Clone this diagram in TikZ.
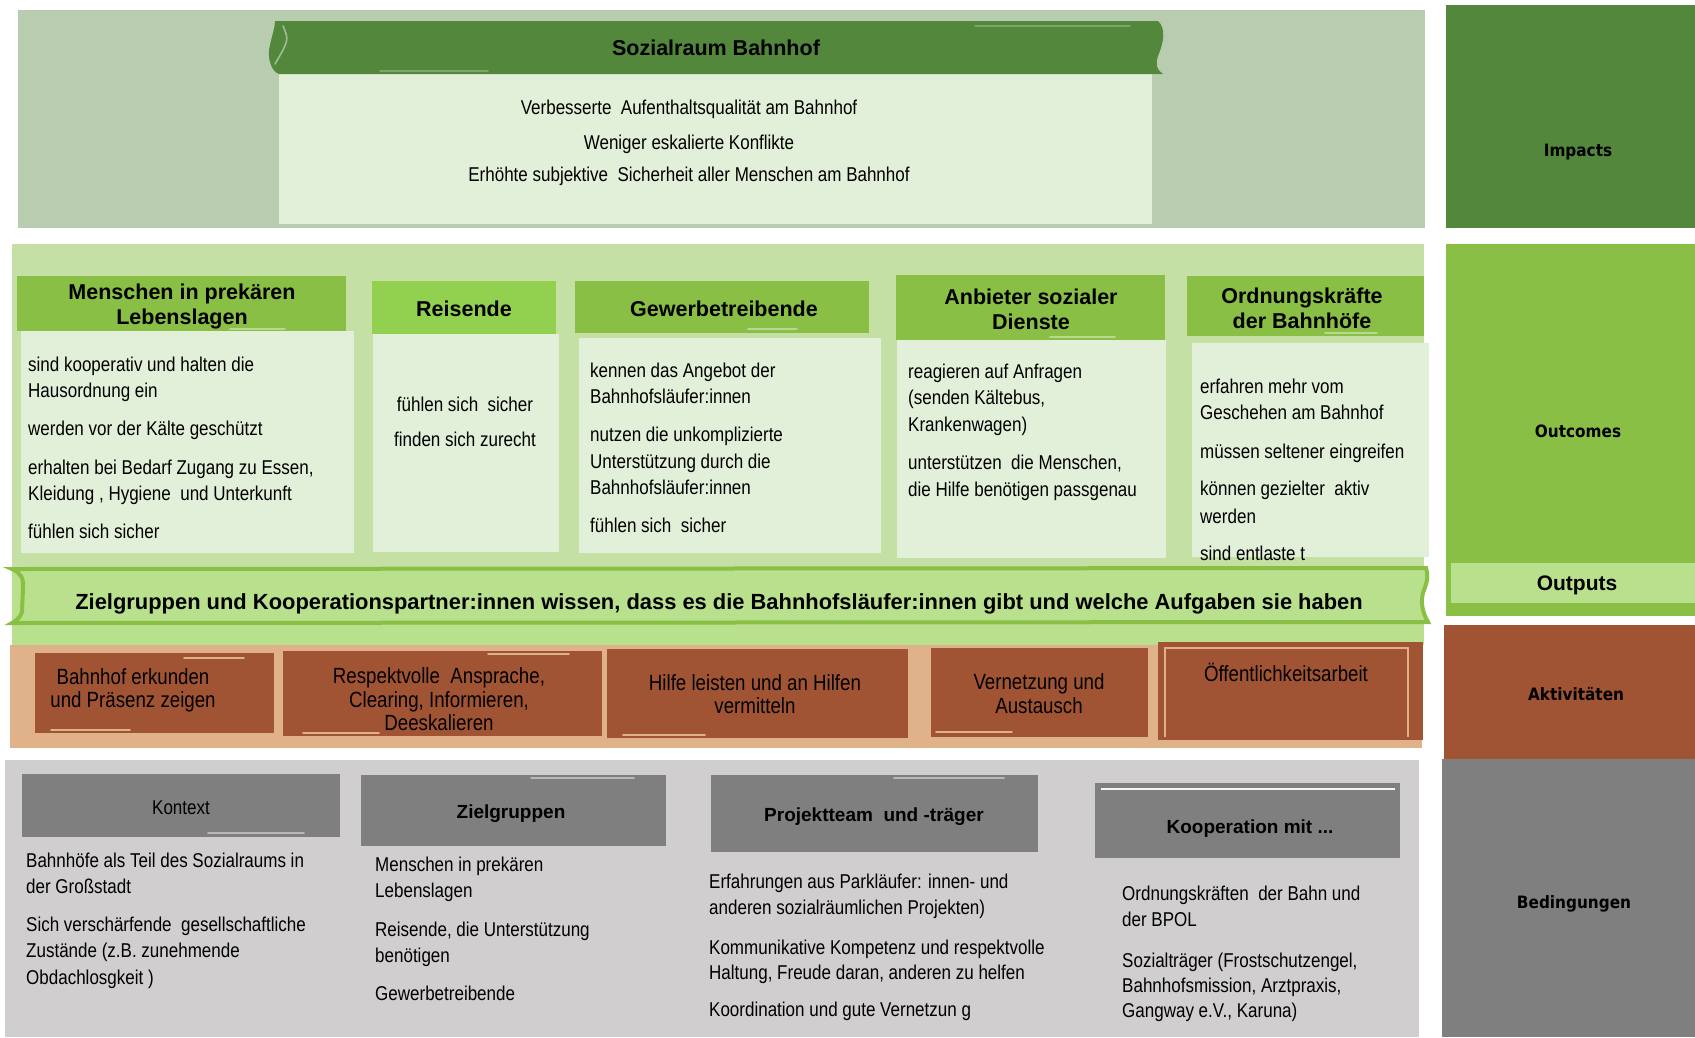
\documentclass[tikz,border=0pt]{standalone}
\usepackage{fontspec}
\setmainfont{Liberation Sans}
\newfontfamily\nar[FakeStretch=0.85]{Liberation Sans}
\newfontfamily\sidefont[FakeStretch=0.9]{DejaVu Sans}
\definecolor{impbg}{RGB}{184,205,176}
\definecolor{dkgreen}{RGB}{83,135,60}
\definecolor{pale}{RGB}{226,239,217}
\definecolor{outbg}{RGB}{197,224,164}
\definecolor{hgreen}{RGB}{137,191,68}
\definecolor{rgreen}{RGB}{146,208,80}
\definecolor{optfill}{RGB}{185,224,141}
\definecolor{tanbg}{RGB}{224,178,138}
\definecolor{brownbox}{RGB}{161,84,52}
\definecolor{greybg}{RGB}{208,206,207}
\definecolor{greyhdr}{RGB}{127,127,127}
\tikzset{
  body/.style={font=\nar\fontsize{20}{24}\selectfont, inner sep=0pt, anchor=base west},
  bodyc/.style={body, anchor=base},
  hdr/.style={font=\bfseries\fontsize{21.5}{26}\selectfont, inner sep=0pt, anchor=base},
  act/.style={font=\nar\fontsize{22}{26}\selectfont, inner sep=0pt, anchor=base},
  ghdr/.style={font=\bfseries\fontsize{19}{23}\selectfont, inner sep=0pt, anchor=base},
  sidelbl/.style={font=\sidefont\bfseries\fontsize{17}{20}\selectfont, inner sep=0pt},
  streak/.style={line width=1.6pt, line cap=round},
}
\begin{document}
\begin{tikzpicture}[x=1pt,y=-1pt]
\useasboundingbox (0,0) rectangle (1695,1037);
\fill[white] (0,0) rectangle (1695,1037);

% ---------- Impacts ----------
\fill[impbg] (18,10) rectangle (1425,228);
\fill[pale] (279,74) rectangle (1152,224);
\fill[dkgreen] (275,21) -- (1158,21) .. controls (1166,28) and (1164,42) .. (1158,56)
  .. controls (1155,65) and (1157,70) .. (1163,74) -- (279,74)
  .. controls (270,71) and (267,55) .. (270,45) .. controls (272,35) and (275,28) .. (275,21) -- cycle;
\draw[dkgreen!55!white, streak] (283,26) .. controls (289,40) .. (275,64);
\draw[dkgreen!75!white, streak] (975,26) -- (1130,26);
\draw[dkgreen!75!white, streak] (380,71) -- (488,71);
\fill[dkgreen] (1446,5) rectangle (1695,228);
\node[hdr] (tSoz) at (716,55) {Sozialraum Bahnhof};
\node[bodyc] (i1) at (689,114) {Verbesserte\ \ Aufenthaltsqualität am Bahnhof};
\node[bodyc] (i2) at (689,149) {Weniger eskalierte Konflikte};
\node[bodyc] (i3) at (689,181) {Erhöhte subjektive\ \ Sicherheit aller Menschen am Bahnhof};
\node[sidelbl] (lImp) at (1578,152) {Impacts};

% ---------- Outcomes ----------
\fill[outbg] (12,244) rectangle (1424,568);
\fill[optfill] (12,568) rectangle (1424,645);
\fill[hgreen] (1446,244) rectangle (1695,616);
\fill[optfill] (1451,563) rectangle (1695,603);
% headers and bodies
\fill[pale] (21,331) rectangle (354,553);
\fill[hgreen] (17,276) rectangle (346,331);
\fill[pale] (373,334) rectangle (559,552);
\fill[rgreen] (372,281) rectangle (556,334);
\fill[pale] (579,338) rectangle (881,553);
\fill[hgreen] (575,281) rectangle (869,333);
\fill[pale] (897,340) rectangle (1166,558);
\fill[hgreen] (896,275) rectangle (1165,340);
\fill[pale] (1192,343) rectangle (1429,557);
\fill[hgreen] (1187,276) rectangle (1424,336);
\draw[hgreen!60!white, streak] (230,329) -- (285,329);
\draw[hgreen!60!white, streak] (748,329) -- (797,329);
\draw[hgreen!60!white, streak] (1050,337) -- (1115,337);
\draw[hgreen!60!white, streak] (1325,333) -- (1377,333);

\node[hdr] (hM1) at (182,299) {Menschen in prekären};
\node[hdr] (hM2) at (182,324) {Lebenslagen};
\node[hdr] (hR) at (464,316) {Reisende};
\node[hdr] (hG) at (724,316) {Gewerbetreibende};
\node[hdr] (hA1) at (1031,304) {Anbieter sozialer};
\node[hdr] (hA2) at (1031,329) {Dienste};
\node[hdr] (hO1) at (1302,303) {Ordnungskräfte};
\node[hdr] (hO2) at (1302,328) {der Bahnhöfe};

\foreach \t/\yy [count=\i] in {{sind kooperativ und halten die}/371, {Hausordnung ein}/397,
   {werden vor der Kälte geschützt}/435, {erhalten bei Bedarf Zugang zu Essen,}/474,
   {Kleidung , Hygiene\ \ und Unterkunft}/500, {fühlen sich sicher}/538}
  \node[body] (m\i) at (28,\yy) {\t};
\foreach \t/\yy [count=\i] in {{fühlen sich\ \ sicher}/411, {finden\ sich zurecht}/446}
  \node[bodyc] (r\i) at (465,\yy) {\t};
\foreach \t/\yy [count=\i] in {{kennen das Angebot der}/377, {Bahnhofsläufer:innen}/403,
   {nutzen die unkomplizierte}/441, {Unterstützung durch die}/468,
   {Bahnhofsläufer:innen}/494, {fühlen sich\ \ sicher}/532}
  \node[body] (g\i) at (590,\yy) {\t};
\foreach \t/\yy [count=\i] in {{reagieren\ auf Anfragen}/378, {(senden Kältebus,}/404,
   {Krankenwagen)}/431, {unterstützen\ \ die Menschen,}/469, {die Hilfe benötigen passgenau}/496}
  \node[body] (a\i) at (908,\yy) {\t};
\foreach \t/\yy [count=\i] in {{erfahren mehr vom}/393, {Geschehen am Bahnhof}/419,
   {müssen\ seltener\ eingreifen}/458, {können gezielter\ \ aktiv}/495, {werden}/523,
   {sind entlaste\ t}/560}
  \node[body] (o\i) at (1200,\yy) {\t};
\node[sidelbl] (lOut) at (1578,431) {Outcomes};

% ---------- Outputs ----------
\draw[hgreen, line width=4pt, fill=optfill] (12,569) .. controls (20,572) and (24,578) .. (23,588)
  -- (22,612) .. controls (20,618) and (16,621) .. (12,623) -- (1428,622)
  .. controls (1422,612) and (1420,600) .. (1424,590) .. controls (1428,580) and (1428,574) .. (1426,568) -- cycle;
\node[font=\bfseries\fontsize{21.9}{26}\selectfont, inner sep=0pt, anchor=base] (tOut) at (719,609)
  {Zielgruppen und Kooperationspartner:innen wissen, dass es die Bahnhofsläufer:innen gibt und welche Aufgaben sie haben};
\node[font=\bfseries\fontsize{21}{25}\selectfont, inner sep=0pt] (lOpt) at (1577,585) {Outputs};

% ---------- Aktivitaeten ----------
\fill[tanbg] (10,645) rectangle (1422,748);
\fill[brownbox] (35,653) rectangle (274,733);
\fill[brownbox] (283,651) rectangle (602,736);
\fill[brownbox] (607,649) rectangle (908,738);
\fill[brownbox] (931,648) rectangle (1148,737);
\fill[brownbox] (1158,642) rectangle (1423,740);
\draw[tanbg, line width=2.5pt] (1165,737) -- (1165,648) -- (1408,648) -- (1408,737);
\draw[tanbg, streak] (51,730) -- (130,730);
\draw[tanbg, streak] (184,658) -- (244,658);
\draw[tanbg, streak] (488,654) -- (569,654);
\draw[tanbg, streak] (303,733) -- (379,733);
\draw[tanbg, streak] (623,735) -- (705,735);
\draw[tanbg, streak] (936,732) -- (1012,732);
\fill[brownbox] (1444,625) rectangle (1695,759);
\node[act] (ac1a) at (133,684) {Bahnhof erkunden};
\node[act] (ac1b) at (133,707) {und Präsenz zeigen};
\node[act] (ac2a) at (439,683) {Respektvolle\ \ Ansprache,};
\node[act] (ac2b) at (439,707) {Clearing, Informieren,};
\node[act] (ac2c) at (439,730) {Deeskalieren};
\node[act] (ac3a) at (755,690) {Hilfe leisten und an Hilfen};
\node[act] (ac3b) at (755,713) {vermitteln};
\node[act] (ac4a) at (1039,689) {Vernetzung und};
\node[act] (ac4b) at (1039,713) {Austausch};
\node[act] (ac5) at (1286,681) {Öffentlichkeitsarbeit};
\node[sidelbl] (lAkt) at (1576,694) {Aktivitäten};

% ---------- Bedingungen ----------
\fill[greybg] (5,760) rectangle (1419,1037);
\fill[greyhdr] (1442,759) rectangle (1695,1037);
\fill[greyhdr] (22,774) rectangle (340,837);
\fill[greyhdr] (361,775) rectangle (666,846);
\fill[greyhdr] (711,775) rectangle (1038,852);
\fill[greyhdr] (1095,783) rectangle (1400,858);
\draw[greyhdr!55!white, streak] (208,833) -- (304,833);
\draw[greyhdr!55!white, streak] (531,778) -- (634,778);
\draw[greyhdr!55!white, streak] (894,778) -- (1004,778);
\draw[white!92!greyhdr, line width=2pt] (1101,789) -- (1395,789);
\node[font=\nar\fontsize{20}{24}\selectfont, inner sep=0pt, anchor=base] (bK) at (181,814) {Kontext};
\node[ghdr] (bZ) at (511,818) {Zielgruppen};
\node[ghdr] (bP) at (874,821) {Projektteam\ \ und -träger};
\node[ghdr] (bKo) at (1250,833) {Kooperation mit ...};
\foreach \t/\yy [count=\i] in {{Bahnhöfe als\ Teil des Sozialraums in}/867, {der Großstadt}/893,
   {Sich verschärfende\ \ gesellschaftliche}/931, {Zustände (z.B. zunehmende}/957,
   {Obdachlosgkeit )}/984}
  \node[body] (k\i) at (26,\yy) {\t};
\foreach \t/\yy [count=\i] in {{Menschen\ in prekären}/871, {Lebenslagen}/897,
   {Reisende, die Unterstützung}/936, {benötigen}/962, {Gewerbetreibende}/1000}
  \node[body] (z\i) at (375,\yy) {\t};
\foreach \t/\yy [count=\i] in {{Erfahrungen\ aus Parkläufer: innen- und}/888,
   {anderen sozialräumlichen Projekten)}/914, {Kommunikative Kompetenz und respektvolle}/954,
   {Haltung,\ Freude daran, anderen zu\ helfen}/979, {Koordination\ und gute\ Vernetzun g}/1016}
  \node[body] (p\i) at (709,\yy) {\t};
\foreach \t/\yy [count=\i] in {{Ordnungskräften\ \ der Bahn und}/900, {der BPOL}/926,
   {Sozialträger (Frostschutzengel,}/967, {Bahnhofsmission, Arztpraxis,}/992,
   {Gangway e.V., Karuna)}/1017}
  \node[body] (c\i) at (1122,\yy) {\t};
\node[sidelbl] (lBed) at (1574,904) {Bedingungen};
\end{tikzpicture}
\end{document}
